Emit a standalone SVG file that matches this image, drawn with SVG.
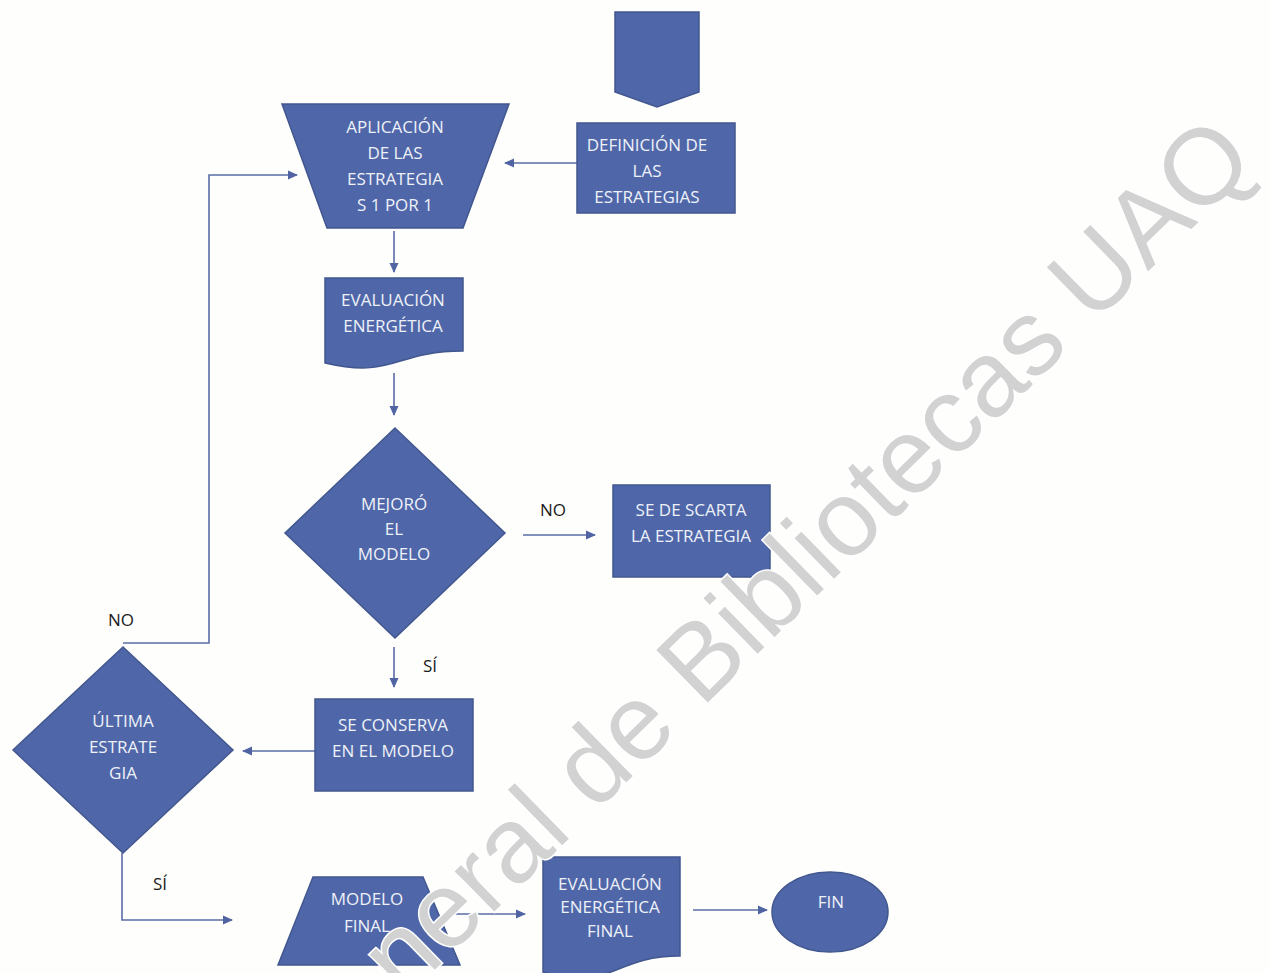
<svg xmlns="http://www.w3.org/2000/svg" width="1270" height="973" viewBox="0 0 1270 973">
<defs>
<style>
.shape{fill:#4f67a8;stroke:#42578f;stroke-width:1.5}
.nt{font-family:"Open Sans","Liberation Sans",sans-serif;font-size:17px;fill:#eef1f8;text-anchor:middle}
.lbl{font-family:"Open Sans","Liberation Sans",sans-serif;font-size:17px;fill:#1a1a1a;text-anchor:middle}
.con{fill:none;stroke:#5a6da6;stroke-width:1.6}
.wm{font-family:"Liberation Sans","Arial",sans-serif;font-size:107px;fill:#d2d2d2;stroke:#ffffff;stroke-width:3;paint-order:stroke}
</style>
<marker id="ah" viewBox="0 0 10 10" refX="9" refY="5" markerWidth="10" markerHeight="10" markerUnits="userSpaceOnUse" orient="auto">
<path d="M0,0.5 L10,5 L0,9.5 Z" fill="#5064a4"/>
</marker>
</defs>
<rect x="0" y="0" width="1270" height="973" fill="#fefefc"/>

<g id="connectors">
<line class="con" x1="577" y1="163" x2="505" y2="163" marker-end="url(#ah)"/>
<polyline class="con" points="123,643 209,643 209,175 297,175" marker-end="url(#ah)"/>
<line class="con" x1="394" y1="231" x2="394" y2="272" marker-end="url(#ah)"/>
<line class="con" x1="394" y1="373" x2="394" y2="415" marker-end="url(#ah)"/>
<line class="con" x1="523" y1="535" x2="595" y2="535" marker-end="url(#ah)"/>
<line class="con" x1="394" y1="647" x2="394" y2="687" marker-end="url(#ah)"/>
<line class="con" x1="315" y1="751" x2="243" y2="751" marker-end="url(#ah)"/>
<polyline class="con" points="122,853 122,920 232,920" marker-end="url(#ah)"/>
<line class="con" x1="453" y1="914" x2="525" y2="914" marker-end="url(#ah)"/>
<line class="con" x1="693" y1="910" x2="767" y2="910" marker-end="url(#ah)"/>
<text class="lbl" x="553" y="516">NO</text>
<text class="lbl" x="430" y="672">SÍ</text>
<text class="lbl" x="121" y="626">NO</text>
<text class="lbl" x="160" y="890">SÍ</text>
</g>

<g id="offpage">
<polygon class="shape" points="615,12 699,12 699,92 657,107 615,92"/>
</g>

<g id="aplicacion">
<polygon class="shape" points="282,104 509,104 463,228 327,228"/>
<text class="nt" x="395" y="133">APLICACIÓN</text>
<text class="nt" x="395" y="159">DE LAS</text>
<text class="nt" x="395" y="185">ESTRATEGIA</text>
<text class="nt" x="395" y="211">S 1 POR 1</text>
</g>

<g id="definicion">
<rect class="shape" x="577" y="123" width="158" height="90"/>
<text class="nt" x="647" y="151">DEFINICIÓN DE</text>
<text class="nt" x="647" y="177">LAS</text>
<text class="nt" x="647" y="203">ESTRATEGIAS</text>
</g>

<g id="evaluacion">
<path class="shape" d="M325,278 H463 V351 C394,351 394,379 325,363 Z"/>
<text class="nt" x="393" y="306">EVALUACIÓN</text>
<text class="nt" x="393" y="332">ENERGÉTICA</text>
</g>

<g id="mejoro">
<polygon class="shape" points="395,428 505,533 395,638 285,533"/>
<text class="nt" x="394" y="510">MEJORÓ</text>
<text class="nt" x="394" y="535">EL</text>
<text class="nt" x="394" y="560">MODELO</text>
</g>

<g id="descarta">
<rect class="shape" x="613" y="485" width="157" height="92"/>
<text class="nt" x="691" y="516">SE DE SCARTA</text>
<text class="nt" x="691" y="542">LA ESTRATEGIA</text>
</g>

<g id="conserva">
<rect class="shape" x="315" y="699" width="158" height="92"/>
<text class="nt" x="393" y="731">SE CONSERVA</text>
<text class="nt" x="393" y="757">EN EL MODELO</text>
</g>

<g id="ultima">
<polygon class="shape" points="123,647 233,750 123,853 13,750"/>
<text class="nt" x="123" y="727">ÚLTIMA</text>
<text class="nt" x="123" y="753">ESTRATE</text>
<text class="nt" x="123" y="779">GIA</text>
</g>

<g id="modelofinal">
<polygon class="shape" points="313,877 423,877 460,965 278,965"/>
<text class="nt" x="367" y="905">MODELO</text>
<text class="nt" x="367" y="932">FINAL</text>
</g>

<g id="evalfinal">
<path class="shape" d="M543,857 H680 V956 C611.5,956 611.5,993 543,972 Z"/>
<text class="nt" x="610" y="890">EVALUACIÓN</text>
<text class="nt" x="610" y="913">ENERGÉTICA</text>
<text class="nt" x="610" y="937">FINAL</text>
</g>

<g id="fin">
<ellipse class="shape" cx="830" cy="912" rx="58" ry="40"/>
<text class="nt" x="831" y="908">FIN</text>
</g>

<text class="wm" transform="translate(404,1000) rotate(-44.4)">neral de Bibliotecas UAQ</text>
</svg>
